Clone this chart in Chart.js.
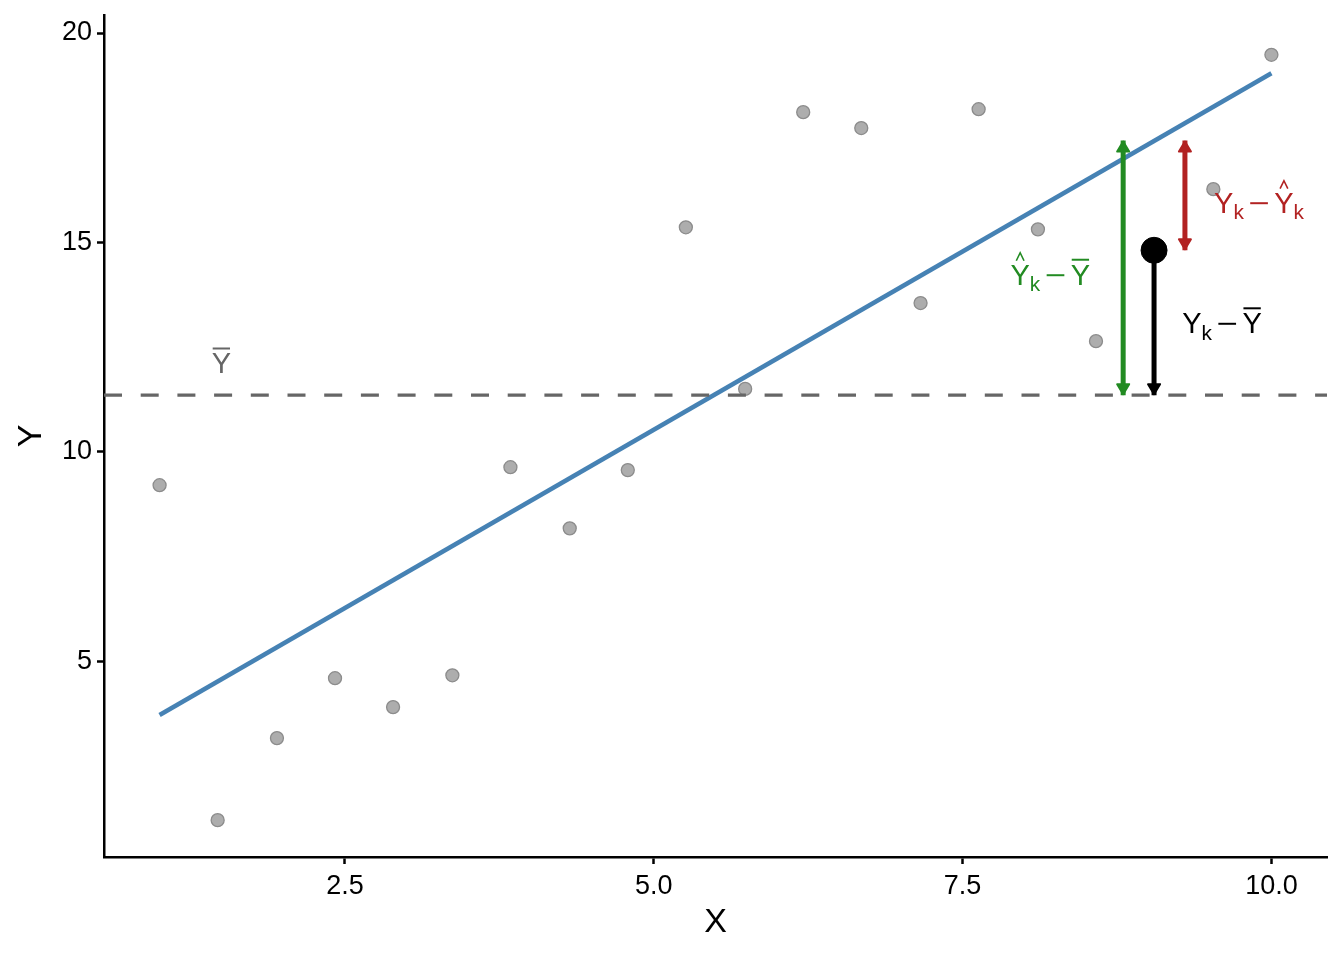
<!DOCTYPE html>
<html>
<head>
<meta charset="utf-8">
<script src="https://cdn.jsdelivr.net/npm/chart.js@4.4.1/dist/chart.umd.min.js"></script>
<style>
  html, body { margin: 0; padding: 0; background: #fff; }
  #wrap { width: 1344px; height: 960px; }
</style>
</head>
<body>
<div id="wrap"><canvas id="chart"></canvas></div>
<script>
// observed points
const xValues = [1, 1.47, 1.95, 2.42, 2.89, 3.37, 3.84, 4.32, 4.79, 5.26,
                 5.74, 6.21, 6.68, 7.16, 7.63, 8.11, 8.58, 9.05, 9.53, 10];
const yValues = [9.20, 1.20, 3.16, 4.59, 3.90, 4.66, 9.63, 8.17, 9.56, 15.36,
                 11.50, 18.11, 17.73, 13.55, 18.18, 15.31, 12.64, 14.81, 16.27, 19.48];
const kIndex = 17;

// fitted line + mean
const fitX = [1, 10];
const fitY = [3.71, 19.04];
const yMean = 11.35;
const yHatK = 17.43;

// arrows beside point k
const greenArrowX = 8.80;
const redArrowX = 9.30;

// axes
const xRange = [0.55, 10.45];
const yRange = [0.32, 20.43];
const xTicks = [2.5, 5, 7.5, 10];
const xTickLabels = ['2.5', '5.0', '7.5', '10.0'];
const yTicks = [5, 10, 15, 20];
const yTickLabels = ['5', '10', '15', '20'];

const FONT = '"Liberation Sans", Arial, sans-serif';

const xk = xValues[kIndex];
const yk = yValues[kIndex];

const arrowDefs = [
  { ds: 'green', color: '#228B22', heads: [0, 1] },
  { ds: 'black', color: '#000000', heads: [1] },
  { ds: 'red', color: '#B22222', heads: [0, 1] }
];

// math-ish labels: [x, y, color, parts]
const MINUS = { minus: true };
const labels = [
  [8.21, 14.24, '#228B22', [{ t: 'Y', deco: 'hat' }, { t: 'k', sub: true }, MINUS, { t: 'Y', deco: 'bar' }]],
  [9.60, 13.08, '#000000', [{ t: 'Y' }, { t: 'k', sub: true }, MINUS, { t: 'Y', deco: 'bar' }]],
  [9.90, 15.96, '#B22222', [{ t: 'Y' }, { t: 'k', sub: true }, MINUS, { t: 'Y', deco: 'hat' }, { t: 'k', sub: true }]],
  [1.50, 12.12, '#666666', [{ t: 'Y', deco: 'bar' }]]
];

function drawMath(ctx, parts, cx, cy, color, size) {
  const subSize = size * 0.72;
  ctx.save();
  ctx.fillStyle = color;
  ctx.strokeStyle = color;
  ctx.textBaseline = 'alphabetic';
  ctx.textAlign = 'left';
  const widths = parts.map(p => {
    if (p.minus) return size * 1.05;
    ctx.font = (p.sub ? subSize : size) + 'px ' + FONT;
    return ctx.measureText(p.t).width;
  });
  const total = widths.reduce((a, b) => a + b, 0);
  const cap = size * 0.72;
  const base = cy + cap / 2;
  const top = base - cap;
  let x = cx - total / 2;
  parts.forEach((p, i) => {
    const w = widths[i];
    if (p.minus) {
      ctx.lineWidth = 2;
      ctx.beginPath();
      ctx.moveTo(x + size * 0.22, base - cap * 0.45);
      ctx.lineTo(x + w - size * 0.22, base - cap * 0.45);
      ctx.stroke();
      x += w;
      return;
    }
    ctx.font = (p.sub ? subSize : size) + 'px ' + FONT;
    ctx.fillText(p.t, x, p.sub ? base + size * 0.22 : base);
    if (p.deco === 'bar') {
      ctx.lineWidth = 2;
      ctx.beginPath();
      ctx.moveTo(x + 1, top - 4);
      ctx.lineTo(x + w - 1, top - 4);
      ctx.stroke();
    }
    if (p.deco === 'hat') {
      ctx.lineWidth = 1.6;
      ctx.beginPath();
      ctx.moveTo(x + w * 0.3, top - 3);
      ctx.lineTo(x + w * 0.5, top - 11);
      ctx.lineTo(x + w * 0.7, top - 3);
      ctx.stroke();
    }
    x += w;
  });
  ctx.restore();
}

const annotations = {
  id: 'annotations',
  afterDatasetsDraw(chart) {
    const ctx = chart.ctx;
    const xs = chart.scales.x, ys = chart.scales.y;
    // arrow heads
    arrowDefs.forEach(a => {
      const ds = chart.data.datasets.find(d => d.label === a.ds);
      a.heads.forEach(i => {
        const tip = ds.data[i], other = ds.data[1 - i];
        const tx = xs.getPixelForValue(tip.x), ty = ys.getPixelForValue(tip.y);
        const ox = xs.getPixelForValue(other.x), oy = ys.getPixelForValue(other.y);
        const ang = Math.atan2(ty - oy, tx - ox);
        const len = 11, half = 6;
        ctx.save();
        ctx.fillStyle = a.color;
        ctx.strokeStyle = a.color;
        ctx.lineWidth = 2;
        ctx.lineJoin = 'round';
        ctx.translate(tx, ty);
        ctx.rotate(ang);
        ctx.beginPath();
        ctx.moveTo(-1, 0);
        ctx.lineTo(-len, -half);
        ctx.lineTo(-len, half);
        ctx.closePath();
        ctx.fill();
        ctx.stroke();
        ctx.restore();
      });
    });
    labels.forEach(([lx, ly, color, parts]) => {
      drawMath(ctx, parts, xs.getPixelForValue(lx), ys.getPixelForValue(ly), color, 29);
    });
  }
};

const pointData = xValues.map((x, i) => ({ x: x, y: yValues[i] }));

new Chart(document.getElementById('chart'), {
  type: 'scatter',
  data: {
    datasets: [
      {
        label: 'k',
        data: [{ x: xk, y: yk }],
        backgroundColor: '#000000',
        borderColor: '#000000',
        pointRadius: 13
      },
      {
        label: 'green',
        data: [{ x: greenArrowX, y: yMean }, { x: greenArrowX, y: yHatK }],
        showLine: true,
        borderColor: '#228B22',
        borderWidth: 5,
        pointRadius: 0
      },
      {
        label: 'black',
        data: [{ x: xk, y: yk }, { x: xk, y: yMean }],
        showLine: true,
        borderColor: '#000000',
        borderWidth: 5,
        pointRadius: 0
      },
      {
        label: 'red',
        data: [{ x: redArrowX, y: yHatK }, { x: redArrowX, y: yk }],
        showLine: true,
        borderColor: '#B22222',
        borderWidth: 5,
        pointRadius: 0
      },
      {
        label: 'mean',
        data: [{ x: xRange[0], y: yMean }, { x: xRange[1], y: yMean }],
        showLine: true,
        borderColor: '#666666',
        borderWidth: 3.2,
        borderDash: [18, 18.7],
        pointRadius: 0
      },
      {
        label: 'fit',
        data: fitX.map((x, i) => ({ x: x, y: fitY[i] })),
        showLine: true,
        borderColor: '#4682B4',
        borderWidth: 4.5,
        pointRadius: 0
      },
      {
        label: 'points',
        data: pointData,
        backgroundColor: '#adadad',
        borderColor: '#8c8c8c',
        borderWidth: 1.3,
        pointRadius: 6.5
      }
    ]
  },
  options: {
    responsive: true,
    maintainAspectRatio: false,
    animation: false,
    events: [],
    layout: { padding: { top: 15, right: 17, left: 0, bottom: 0 } },
    plugins: { legend: { display: false }, tooltip: { enabled: false } },
    scales: {
      x: {
        type: 'linear',
        min: xRange[0],
        max: xRange[1],
        afterFit: s => { s.height = 103; s.paddingLeft = 0; s.paddingRight = 0; },
        afterBuildTicks: s => { s.ticks = xTicks.map(v => ({ value: v })); },
        border: { display: true, color: '#000', width: 2.5 },
        grid: { display: true, drawOnChartArea: false, drawTicks: true, tickLength: 7, tickWidth: 2.5, tickColor: '#000' },
        ticks: {
          color: '#000',
          padding: 6,
          maxRotation: 0,
          font: { family: FONT, size: 27 },
          callback: (v, i) => xTickLabels[i]
        },
        title: { display: true, text: 'X', color: '#000', font: { family: FONT, size: 34 }, padding: { bottom: 17 } }
      },
      y: {
        type: 'linear',
        min: yRange[0],
        max: yRange[1],
        afterFit: s => { s.width = 104; s.paddingTop = 0; s.paddingBottom = 0; },
        afterBuildTicks: s => { s.ticks = yTicks.map(v => ({ value: v })); },
        border: { display: true, color: '#000', width: 2.5 },
        grid: { display: true, drawOnChartArea: false, drawTicks: true, tickLength: 7, tickWidth: 2.5, tickColor: '#000' },
        ticks: {
          color: '#000',
          padding: 5,
          font: { family: FONT, size: 27 },
          callback: (v, i) => yTickLabels[i]
        },
        title: { display: true, text: 'Y', color: '#000', font: { family: FONT, size: 34 }, padding: { top: 11 } }
      }
    }
  },
  plugins: [annotations]
});
</script>
</body>
</html>
